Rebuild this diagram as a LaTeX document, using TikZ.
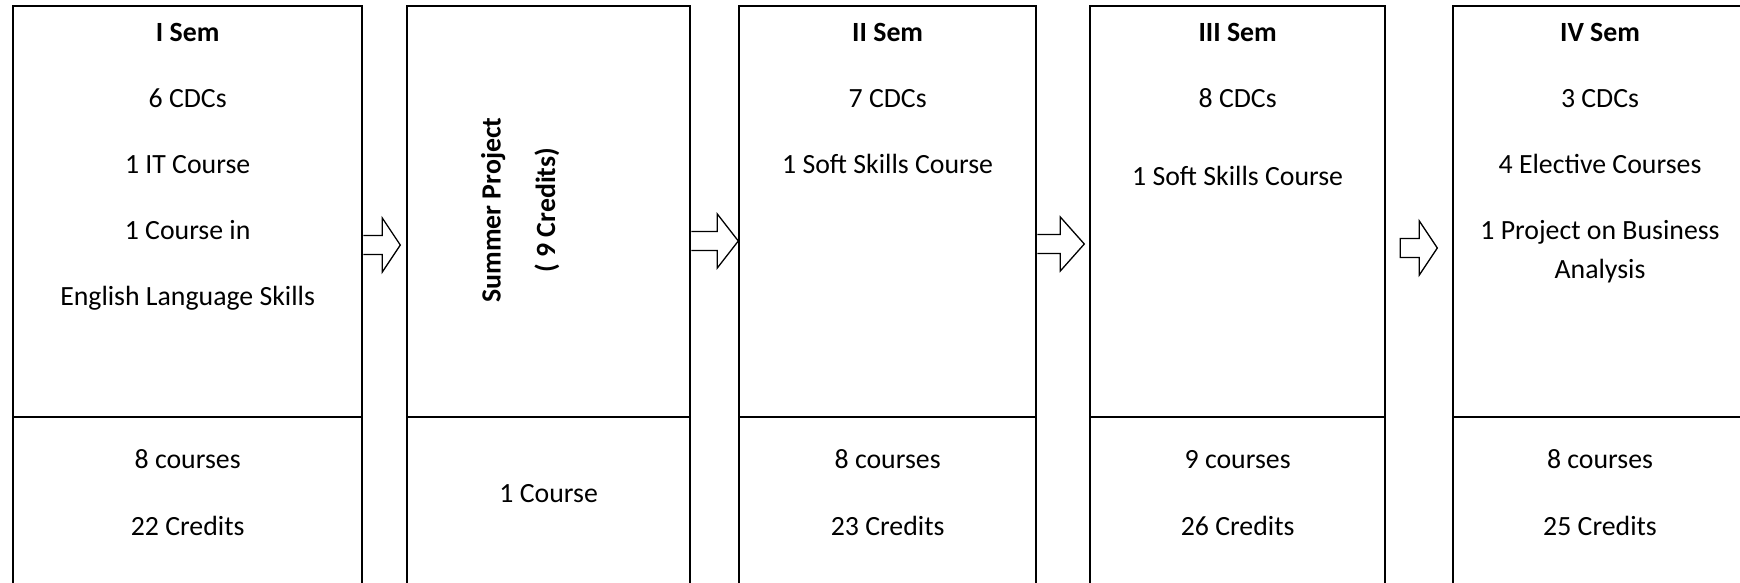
\documentclass[tikz,border=0pt]{standalone}
\usepackage{fontspec}
\setmainfont{Carlito}
\usetikzlibrary{calc}
\begin{document}
\begin{tikzpicture}[x=1pt,y=-1pt,
  box/.style={draw,line width=2.3pt,minimum height=640pt,anchor=north west,inner sep=0pt,minimum width=#1},
  divider/.style={line width=2.3pt},
  txt/.style={anchor=base,inner sep=0pt,font=\fontsize{27.8}{33}\selectfont},
  btxt/.style={txt,font=\fontsize{27.8}{33}\selectfont\bfseries},
  blockarrow/.style={line width=1.3pt,line join=miter}]
\clip (0,0) rectangle (1740,582);
\fill[white] (0,0) rectangle (1740,582);
% boxes
\node[box=349pt] (b1) at (12,4.5) {};
\node[box=283pt] (b2) at (406,4.5) {};
\node[box=297pt] (b3) at (738,4.5) {};
\node[box=295pt] (b4) at (1089,4.5) {};
\node[box=320pt] (b5) at (1452,4.5) {};
% dividers
\foreach \b in {b1,b2,b3,b4,b5}{
  \draw[divider] (\b.west |- 0,417) -- (\b.east |- 0,417);
}
% arrows
\coordinate (a1) at (b1.east |- 0,245);
\draw[blockarrow] ($(a1)+(0,-9.5)$) -- ++(19,0) -- ++(0,-17.5) -- ++(18,27) -- ++(-18,27) -- ++(0,-17.5) -- ++(-19,0);
\coordinate (a2) at (b2.east |- 0,241);
\draw[blockarrow] ($(a2)+(0,-9.5)$) -- ++(26,0) -- ++(0,-17.5) -- ++(21,27) -- ++(-21,27) -- ++(0,-17.5) -- ++(-26,0);
\coordinate (a3) at (b3.east |- 0,244);
\draw[blockarrow] ($(a3)+(0,-9.5)$) -- ++(23,0) -- ++(0,-17.5) -- ++(24,27) -- ++(-24,27) -- ++(0,-17.5) -- ++(-23,0);
\coordinate (a4) at ($(b4.east |- 0,248)+(14,0)$);
\draw[blockarrow] ($(a4)+(0,-9.5)$) -- ++(19,0) -- ++(0,-17.5) -- ++(18,27) -- ++(-18,27) -- ++(0,-17.5) -- ++(-19,0) -- cycle;
% box 1
\node[btxt] (t11) at (b1.north |- 0,41) {I Sem};
\node[txt] (t12) at (b1.north |- 0,107) {6 CDCs};
\node[txt] (t13) at (b1.north |- 0,173.5) {1 IT Course};
\node[txt] (t14) at (b1.north |- 0,239) {1 Course in};
\node[txt] (t15) at (b1.north |- 0,305.5) {English Language Skills};
\node[txt] (t16) at (b1.north |- 0,468.5) {8 courses};
\node[txt] (t17) at (b1.north |- 0,535.5) {22 Credits};
% box 2
\node[btxt,rotate=90] (t21) at (500.5,210) {Summer Project};
\node[btxt,rotate=90] (t22) at (555,210) {( 9 Credits)};
\node[txt] (t23) at (b2.north |- 0,502) {1 Course};
% box 3
\node[btxt] (t31) at (b3.north |- 0,41) {II Sem};
\node[txt] (t32) at (b3.north |- 0,107) {7 CDCs};
\node[txt] (t33) at (b3.north |- 0,173.5) {1 Soft Skills Course};
\node[txt] (t34) at (b3.north |- 0,468.5) {8 courses};
\node[txt] (t35) at (b3.north |- 0,535.5) {23 Credits};
% box 4
\node[btxt] (t41) at (b4.north |- 0,41) {III Sem};
\node[txt] (t42) at (b4.north |- 0,107) {8 CDCs};
\node[txt] (t43) at (b4.north |- 0,185.5) {1 Soft Skills Course};
\node[txt] (t44) at (b4.north |- 0,468.5) {9 courses};
\node[txt] (t45) at (b4.north |- 0,535.5) {26 Credits};
% box 5
\node[btxt] (t51) at (1600,41) {IV Sem};
\node[txt] (t52) at (1600,107) {3 CDCs};
\node[txt] (t53) at (1600,173.5) {4 Elective Courses};
\node[txt] (t54) at (1600,239) {1 Project on Business};
\node[txt] (t55) at (1600,278) {Analysis};
\node[txt] (t56) at (1600,468.5) {8 courses};
\node[txt] (t57) at (1600,535.5) {25 Credits};
\end{tikzpicture}
\end{document}
